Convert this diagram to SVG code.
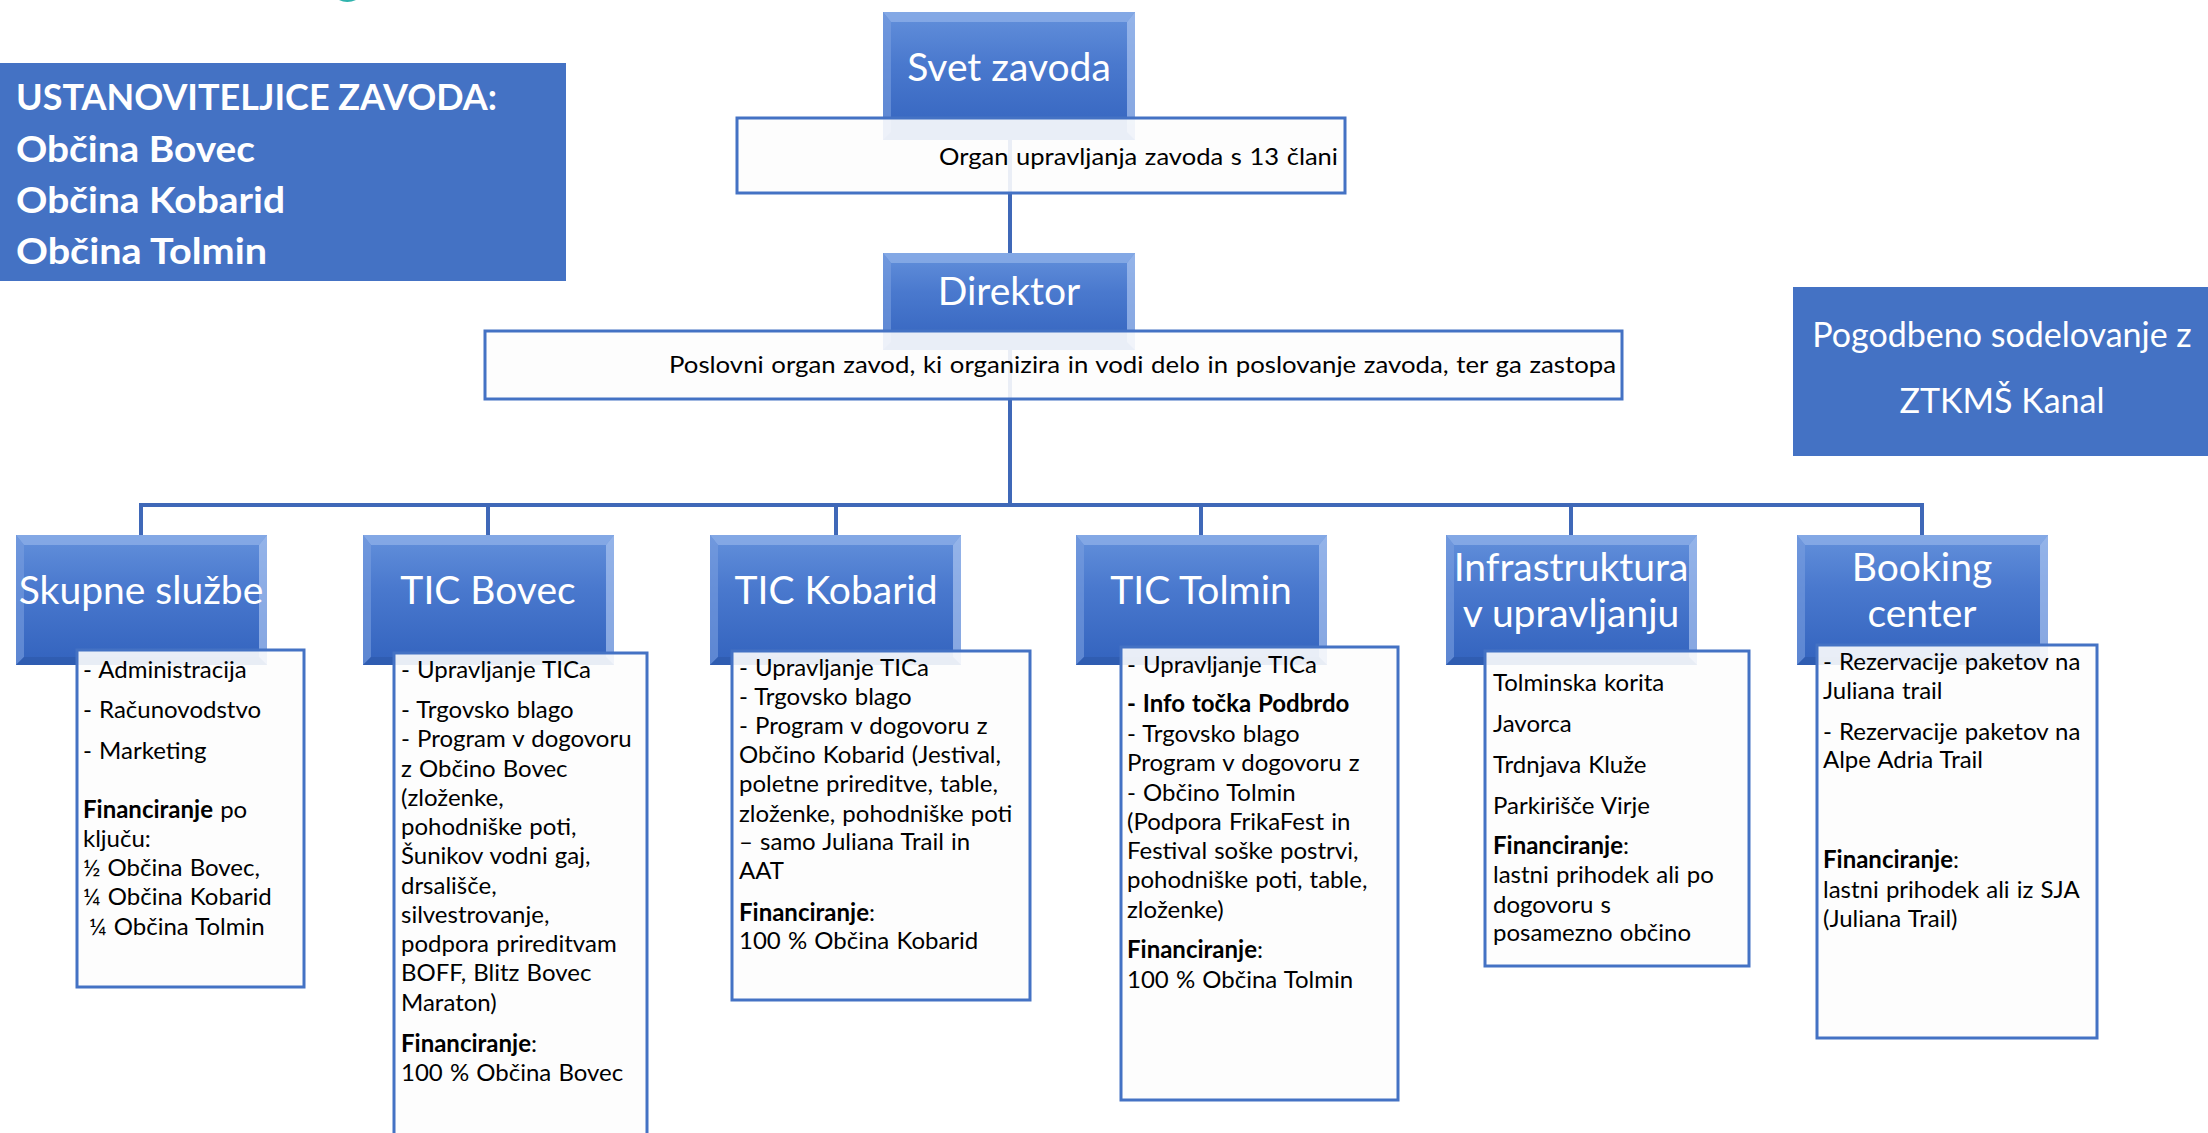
<svg xmlns="http://www.w3.org/2000/svg" xmlns:xlink="http://www.w3.org/1999/xlink" width="2208" height="1133" viewBox="0 0 2208 1133">
<defs>
<linearGradient id="hg" x1="0" y1="0" x2="0" y2="1">
<stop offset="0" stop-color="#6390DB"/>
<stop offset="0.4" stop-color="#4A79CE"/>
<stop offset="1" stop-color="#3363BE"/>
</linearGradient>
<g id="bev130">
<rect x="0" y="0" width="251" height="130" fill="url(#hg)"/>
<polygon points="0,0 251,0 243,10 8,10" fill="#8FB0E8" opacity="0.75"/>
<polygon points="0,0 8,10 8,122 0,130" fill="#7A9FE0" opacity="0.6"/>
<polygon points="251,0 251,130 243,122 243,10" fill="#A9C3F0" opacity="0.7"/>
<polygon points="0,130 8,122 243,122 251,130" fill="#2D58A8" opacity="0.6"/>
</g>
<g id="bev128">
<rect x="0" y="0" width="252" height="128" fill="url(#hg)"/>
<polygon points="0,0 252,0 244,10 8,10" fill="#8FB0E8" opacity="0.75"/>
<polygon points="0,0 8,10 8,120 0,128" fill="#7A9FE0" opacity="0.6"/>
<polygon points="252,0 252,128 244,120 244,10" fill="#A9C3F0" opacity="0.7"/>
</g>
<g id="bev97">
<rect x="0" y="0" width="252" height="97" fill="url(#hg)"/>
<polygon points="0,0 252,0 244,10 8,10" fill="#8FB0E8" opacity="0.75"/>
<polygon points="0,0 8,10 8,89 0,97" fill="#7A9FE0" opacity="0.6"/>
<polygon points="252,0 252,97 244,89 244,10" fill="#A9C3F0" opacity="0.7"/>
</g>
</defs>
<style>
.hd{font-family:Lato,"Open Sans",sans-serif;fill:#ffffff;font-size:39px;text-anchor:middle}
.bd{font-family:Lato,"Open Sans",sans-serif;font-size:24px;word-spacing:1px;fill:#000000}
.b{font-weight:bold}
.det{fill:#FDFDFD;fill-opacity:0.9;stroke:#4472C4;stroke-width:3}
.flat{fill:#4472C4}
.conn{fill:none;stroke:#3F68B8;stroke-width:4}
.wt{font-family:Lato,"Open Sans",sans-serif;fill:#ffffff}
</style>
<rect width="2208" height="1133" fill="#ffffff"/>
<path d="M339,0 Q347,4 356,0 Z" fill="#2FB3AD"/>

<g id="connectors">
<line class="conn" x1="1010" y1="140" x2="1010" y2="507"/>
<polyline class="conn" points="141,535 141,505 1922,505 1922,535"/>
<line class="conn" x1="488" y1="505" x2="488" y2="535"/>
<line class="conn" x1="836" y1="505" x2="836" y2="535"/>
<line class="conn" x1="1201" y1="505" x2="1201" y2="535"/>
<line class="conn" x1="1571" y1="505" x2="1571" y2="535"/>
</g>

<g id="ustanoviteljice">
<rect class="flat" x="0" y="63" width="566" height="218"/>
<text class="wt b" font-size="37" x="16" y="110" textLength="481" lengthAdjust="spacingAndGlyphs">USTANOVITELJICE ZAVODA:</text>
<text class="wt b" font-size="37" x="16" y="162" textLength="239" lengthAdjust="spacingAndGlyphs">Občina Bovec</text>
<text class="wt b" font-size="37" x="16" y="213" textLength="269" lengthAdjust="spacingAndGlyphs">Občina Kobarid</text>
<text class="wt b" font-size="37" x="16" y="264" textLength="251" lengthAdjust="spacingAndGlyphs">Občina Tolmin</text>
</g>

<g id="pogodbeno">
<rect class="flat" x="1793" y="287" width="415" height="169"/>
<text class="wt" font-size="34" text-anchor="middle" x="2002" y="347">Pogodbeno sodelovanje z</text>
<text class="wt" font-size="34" text-anchor="middle" x="2002" y="413">ZTKMŠ Kanal</text>
</g>

<g id="svet-zavoda">
<use xlink:href="#bev128" href="#bev128" x="883" y="12"/>
<rect class="det" x="737" y="118" width="608" height="75"/>
<text class="hd" x="1009" y="81">Svet zavoda</text>
<text class="bd" font-size="25" x="939" y="165" textLength="399" lengthAdjust="spacingAndGlyphs">Organ upravljanja zavoda s 13 člani</text>
</g>

<g id="direktor">
<use xlink:href="#bev97" href="#bev97" x="883" y="253"/>
<rect class="det" x="485" y="331" width="1137" height="68"/>
<text class="hd" x="1009" y="305">Direktor</text>
<text class="bd" font-size="25" x="669" y="373" textLength="947" lengthAdjust="spacingAndGlyphs">Poslovni organ zavod, ki organizira in vodi delo in poslovanje zavoda, ter ga zastopa</text>
</g>

<g id="skupne-sluzbe">
<use xlink:href="#bev130" href="#bev130" x="16" y="535"/>
<rect class="det" x="77" y="650" width="227" height="337"/>
<text class="hd" x="141" y="604">Skupne službe</text>
<text class="bd" x="83" y="678">- Administracija</text>
<text class="bd" x="83" y="718">- Računovodstvo</text>
<text class="bd" x="83" y="759">- Marketing</text>
<text class="bd" x="83" y="818"><tspan class="b">Financiranje</tspan> po</text>
<text class="bd" x="83" y="847">ključu:</text>
<text class="bd" x="83" y="876">½ Občina Bovec,</text>
<text class="bd" x="83" y="905">¼ Občina Kobarid</text>
<text class="bd" x="89" y="935">¼ Občina Tolmin</text>
</g>

<g id="tic-bovec">
<use xlink:href="#bev130" href="#bev130" x="363" y="535"/>
<rect class="det" x="394" y="653" width="253" height="490"/>
<text class="hd" x="488" y="604">TIC Bovec</text>
<text class="bd" x="401" y="678">- Upravljanje TICa</text>
<text class="bd" x="401" y="718">- Trgovsko blago</text>
<text class="bd" x="401" y="747">- Program v dogovoru</text>
<text class="bd" x="401" y="777">z Občino Bovec</text>
<text class="bd" x="401" y="806">(zloženke,</text>
<text class="bd" x="401" y="835">pohodniške poti,</text>
<text class="bd" x="401" y="864">Šunikov vodni gaj,</text>
<text class="bd" x="401" y="894">drsališče,</text>
<text class="bd" x="401" y="923">silvestrovanje,</text>
<text class="bd" x="401" y="952">podpora prireditvam</text>
<text class="bd" x="401" y="981">BOFF, Blitz Bovec</text>
<text class="bd" x="401" y="1011">Maraton)</text>
<text class="bd" x="401" y="1052"><tspan class="b">Financiranje</tspan>:</text>
<text class="bd" x="401" y="1081">100 % Občina Bovec</text>
</g>

<g id="tic-kobarid">
<use xlink:href="#bev130" href="#bev130" x="710" y="535"/>
<rect class="det" x="732" y="651" width="298" height="349"/>
<text class="hd" x="836" y="604">TIC Kobarid</text>
<text class="bd" x="739" y="676">- Upravljanje TICa</text>
<text class="bd" x="739" y="705">- Trgovsko blago</text>
<text class="bd" x="739" y="734">- Program v dogovoru z</text>
<text class="bd" x="739" y="763">Občino Kobarid (Jestival,</text>
<text class="bd" x="739" y="792">poletne prireditve, table,</text>
<text class="bd" x="739" y="822">zloženke, pohodniške poti</text>
<text class="bd" x="739" y="850">– samo Juliana Trail in</text>
<text class="bd" x="739" y="879">AAT</text>
<text class="bd" x="739" y="921"><tspan class="b">Financiranje</tspan>:</text>
<text class="bd" x="739" y="949">100 % Občina Kobarid</text>
</g>

<g id="tic-tolmin">
<use xlink:href="#bev130" href="#bev130" x="1076" y="535"/>
<rect class="det" x="1121" y="647" width="277" height="453"/>
<text class="hd" x="1201" y="604">TIC Tolmin</text>
<text class="bd" x="1127" y="673">- Upravljanje TICa</text>
<text class="bd b" x="1127" y="712">- Info točka Podbrdo</text>
<text class="bd" x="1127" y="742">- Trgovsko blago</text>
<text class="bd" x="1127" y="771">Program v dogovoru z</text>
<text class="bd" x="1127" y="801">- Občino Tolmin</text>
<text class="bd" x="1127" y="830">(Podpora FrikaFest in</text>
<text class="bd" x="1127" y="859">Festival soške postrvi,</text>
<text class="bd" x="1127" y="888">pohodniške poti, table,</text>
<text class="bd" x="1127" y="918">zloženke)</text>
<text class="bd" x="1127" y="958"><tspan class="b">Financiranje</tspan>:</text>
<text class="bd" x="1127" y="988">100 % Občina Tolmin</text>
</g>

<g id="infrastruktura">
<use xlink:href="#bev130" href="#bev130" x="1446" y="535"/>
<rect class="det" x="1485" y="651" width="264" height="315"/>
<text class="hd" x="1571" y="581">Infrastruktura</text>
<text class="hd" x="1571" y="627">v upravljanju</text>
<text class="bd" x="1493" y="691">Tolminska korita</text>
<text class="bd" x="1493" y="732">Javorca</text>
<text class="bd" x="1493" y="773">Trdnjava Kluže</text>
<text class="bd" x="1493" y="814">Parkirišče Virje</text>
<text class="bd" x="1493" y="854"><tspan class="b">Financiranje</tspan>:</text>
<text class="bd" x="1493" y="883">lastni prihodek ali po</text>
<text class="bd" x="1493" y="913">dogovoru s</text>
<text class="bd" x="1493" y="941">posamezno občino</text>
</g>

<g id="booking-center">
<use xlink:href="#bev130" href="#bev130" x="1797" y="535"/>
<rect class="det" x="1817" y="645" width="280" height="393"/>
<text class="hd" x="1922" y="581">Booking</text>
<text class="hd" x="1922" y="627">center</text>
<text class="bd" x="1823" y="670">- Rezervacije paketov na</text>
<text class="bd" x="1823" y="699">Juliana trail</text>
<text class="bd" x="1823" y="740">- Rezervacije paketov na</text>
<text class="bd" x="1823" y="768">Alpe Adria Trail</text>
<text class="bd" x="1823" y="868"><tspan class="b">Financiranje</tspan>:</text>
<text class="bd" x="1823" y="898">lastni prihodek ali iz SJA</text>
<text class="bd" x="1823" y="927">(Juliana Trail)</text>
</g>
</svg>
